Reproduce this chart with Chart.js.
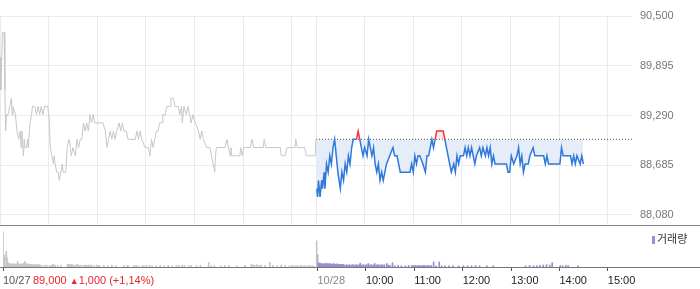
<!DOCTYPE html>
<html><head><meta charset="utf-8">
<script src="https://cdn.jsdelivr.net/npm/chart.js@4"></script>
<style>
html,body{margin:0;padding:0;background:#fff;width:700px;height:289px;overflow:hidden;font-family:'Liberation Sans',Arial,sans-serif;}
#wrap{position:relative;width:700px;height:289px;}
#price{position:absolute;left:0;top:0;}
#vol{position:absolute;left:0;top:226px;}
.change{position:absolute;left:33px;top:274px;font-size:11px;color:#e8262b;white-space:pre;line-height:13px;}
.change .tri{font-size:9px;vertical-align:0px;}
.legend{position:absolute;left:652px;top:231px;font-size:11px;color:#333;font-family:'Noto Sans CJK KR',sans-serif;line-height:14px;white-space:nowrap;}
.legend i{display:inline-block;width:3px;height:8px;background:#9a8ccf;margin-right:2px;vertical-align:-1px;}
</style></head><body>
<div id="wrap">
<canvas id="price" width="700" height="226"></canvas>
<canvas id="vol" width="700" height="63"></canvas>
<div class="change">89,000 <span class="tri">▲</span>1,000 (+1,14%)</div>
<div class="legend"><i></i>거래량</div>
</div>
<script>
// ---- data ----
const prevClose = 89000;
const priceTicks = [88080, 88685, 89290, 89895, 90500];
const timeTickLabels = ['10/27', '10/28', '10:00', '11:00', '12:00', '13:00', '14:00', '15:00'];
const timeTickMinutes = [0, 390, 450, 510, 570, 630, 690, 750];
const gridMinutes = [0, 60, 120, 180, 240, 300, 360, 390, 450, 510, 570, 630, 690, 750];

// 10/27 price (time, price)
const prevDayPrice = [
["09:00",90000],["09:01",89600],["09:03",90300],["09:05",90300],["09:06",89600],["09:07",89100],["09:08",89300],["09:10",89300],["09:12",89400],["09:14",89500],["09:15",89300],["09:16",89400],["09:19",89300],["09:20",89200],["09:21",89100],["09:23",89000],["09:25",89100],["09:26",88900],["09:27",89100],["09:29",88800],["09:30",89000],["09:31",88900],["09:33",88900],["09:34",89000],["09:35",88900],["09:37",89200],["09:39",89300],["09:40",89400],["09:43",89400],["09:45",89300],["09:47",89400],["09:49",89300],["09:51",89400],["09:53",89300],["09:55",89400],["09:59",89400],
["10:01",89200],["10:02",88900],["10:04",88800],["10:06",88700],["10:07",88800],["10:08",88700],["10:10",88600],["10:12",88600],["10:13",88500],["10:15",88600],["10:17",88700],["10:18",88600],["10:21",88600],["10:23",88900],["10:25",89000],["10:27",88900],["10:28",88800],["10:30",88900],["10:33",88800],["10:35",89000],["10:37",88900],["10:39",89000],["10:41",89000],["10:43",89200],["10:45",89100],["10:47",89200],["10:49",89100],["10:51",89300],["10:53",89200],["10:55",89300],["10:57",89200],
["11:07",89200],["11:10",89100],["11:12",88900],["11:14",89000],["11:16",89100],["11:18",89000],["11:20",89100],["11:22",89000],["11:24",89100],["11:27",89200],["11:29",89100],["11:31",89200],["11:33",89100],["11:36",89100],["11:38",89000],["11:47",89000],["11:49",89100],["11:51",89000],["11:53",89100],["11:55",89000],["11:59",88900],
["12:03",88900],["12:05",88800],["12:07",89000],["12:09",88900],["12:11",89000],["12:13",89100],["12:15",89100],["12:17",89200],["12:20",89200],["12:21",89300],["12:24",89300],["12:26",89400],["12:30",89400],["12:31",89500],["12:34",89500],["12:36",89400],["12:40",89400],["12:42",89300],["12:44",89400],["12:45",89200],["12:47",89400],["12:50",89300],["12:52",89400],["12:54",89300],["12:56",89200],["12:58",89300],
["13:01",89200],["13:05",89100],["13:07",89000],["13:09",89100],["13:11",89000],["13:15",88900],["13:19",88900],["13:21",88800],["13:23",88700],["13:25",88600],["13:26",88800],["13:27",88900],["13:38",88900],["13:40",89000],["13:42",88900],["13:44",88800],["13:45",88900],["13:46",88800],["13:56",88800],["13:57",88900],["13:59",88800],
["14:01",88900],["14:09",88900],["14:11",89000],["14:13",88900],["14:25",88900],["14:26",89000],["14:28",88900],["14:46",88900],["14:47",88800],["14:52",88800],["14:54",88900],
["15:04",88900],["15:05",89000],["15:07",88900],["15:16",88900],["15:18",88800],["15:29",88800],["15:30",89000]
];

// 10/28 price (time, price)
const todayPrice = [
["09:01",88400],["09:02",88300],["09:03",88500],["09:05",88300],["09:07",88500],["09:08",88400],["09:10",88600],["09:11",88400],["09:13",88700],["09:15",88600],["09:17",88800],["09:19",88700],["09:21",88900],["09:23",89000],["09:25",88800],["09:27",88600],["09:30",88400],["09:32",88600],["09:34",88500],["09:36",88700],["09:38",88600],["09:40",88800],["09:42",88700],["09:44",88900],["09:46",89000],["09:50",89000],["09:52",89100],["09:54",89000],["09:56",88900],["09:58",88800],
["10:00",88900],["10:03",88800],["10:05",89000],["10:07",88900],["10:09",88800],["10:11",88900],["10:13",88700],["10:15",88600],["10:17",88700],["10:19",88500],["10:21",88600],["10:23",88500],["10:25",88600],["10:27",88700],["10:31",88800],["10:35",88900],["10:37",88800],["10:40",88800],["10:42",88700],["10:44",88600],["10:56",88600],["10:58",88700],
["11:00",88600],["11:02",88800],["11:04",88700],["11:06",88800],["11:08",88800],["11:12",88700],["11:15",88600],["11:17",88800],["11:19",88800],["11:21",88900],["11:23",89000],["11:25",88900],["11:27",89000],["11:29",89100],["11:37",89100],["11:39",89000],["11:41",88900],["11:43",88800],["11:45",88700],["11:47",88600],["11:50",88700],["11:52",88600],["11:54",88800],["11:56",88700],["11:58",88800],
["12:02",88800],["12:04",88900],["12:06",88800],["12:08",88900],["12:10",88800],["12:12",88900],["12:14",88800],["12:16",88700],["12:18",88800],["12:22",88900],["12:24",88800],["12:26",88900],["12:29",88800],["12:31",88900],["12:33",88800],["12:35",88900],["12:37",88700],["12:39",88800],["12:41",88700],["12:55",88700],["12:57",88600],["12:59",88600],
["13:01",88800],["13:04",88700],["13:08",88800],["13:10",88900],["13:12",88700],["13:14",88800],["13:16",88600],["13:18",88700],["13:22",88700],["13:24",88800],["13:28",88900],["13:30",88800],["13:41",88800],["13:43",88700],["13:45",88800],["13:47",88700],
["14:01",88700],["14:03",88900],["14:05",88800],["14:14",88800],["14:16",88700],["14:18",88800],["14:20",88700],["14:22",88800],["14:26",88700],["14:28",88800],["14:30",88700]
];

// volume (minutes after 09:00 open, relative volume)
const prevDayVolume = [
[0,90],[1,22],[2,30],[4,40],[5,24],[6,12],[7,8],[8,9],[9,7],[10,8],[11,6],[12,9],[13,7],[14,6],[15,8],[16,7],[17,6],[18,14],[19,9],[20,7],[21,6],[22,8],[23,6],[24,7],[25,9],[26,8],[27,14],[28,10],[29,7],[30,6],[31,8],[32,6],[33,7],[34,5],[35,6],[36,7],[37,6],[38,5],[39,6],[40,5],[41,6],[42,5],[43,6],[44,5],[45,6],[46,5],[47,4],
[50,4],[53,5],[55,3],[58,4],[60,4],[62,7],[63,5],[65,4],[68,3],[72,4],[80,6],[81,7],[82,5],[83,6],[84,7],[85,5],[86,6],[88,4],[90,5],[92,7],[93,5],[95,4],[97,5],[100,4],[102,5],[104,4],[106,5],[108,4],[110,5],[113,3],[116,5],[118,4],[120,3],[125,4],[130,3],[135,5],[140,3],[150,4],[154,3],[155,4],[162,4],[165,4],[168,3],[173,4],[175,3],[178,4],[182,4],[185,3],[190,3],[195,4],[200,3],[205,4],[210,3],[215,4],[218,4],[222,4],[225,4],[230,3],[233,4],[240,3],[245,4],[255,12],[258,3],[262,4],[270,3],[275,4],[280,4],[290,3],[300,4],[308,7],[310,5],[312,4],[315,6],[318,4],[320,5],[325,4],[331,12],[335,4],[340,3],[345,5],[350,4],[355,3],[358,4],[360,4],[363,3],[365,4],[368,3],[370,4],[373,3],[375,4],[378,3],[380,4],[383,3],[385,3],[389,67]
];
const todayVolume = [
[0,32],[1,11],[2,8],[3,10],[4,7],[5,9],[6,8],[7,7],[8,9],[9,7],[10,8],[11,10],[12,7],[13,8],[14,6],[15,9],[16,7],[17,8],[18,6],[19,7],[20,9],[21,6],[22,7],[23,6],[24,8],[25,6],[26,7],[27,5],[28,6],[29,7],[30,5],[31,6],[32,7],[34,5],[36,6],[38,5],[40,6],[42,5],[44,6],[46,5],[48,6],[50,5],[52,6],[53,10],[55,5],[57,6],[59,5],[61,6],[63,9],[65,5],[67,6],[69,5],[71,9],[73,5],[75,6],[77,5],[79,6],[81,5],[83,6],[86,9],[88,5],[90,4],[93,11],[96,3],[100,4],[104,3],[109,3],[113,4],[117,4],[119,3],[121,4],[123,3],[125,4],[127,4],[129,3],[131,4],[133,4],[135,3],[137,4],[139,3],[141,4],[144,13],[147,3],[151,13],[154,3],[158,3],[163,3],[168,3],[175,3],[181,3],[186,3],[191,3],[196,4],[201,3],[210,3],[218,3],[258,3],[263,4],[268,3],[272,3],[276,4],[280,5],[284,6],[288,5],[291,11],[301,4],[304,3],[308,4],[311,3],[323,3]
];

// ---- helpers ----
const SESSION = 390; // 09:00–15:30 in minutes
function toX(day, hhmm) {
  const [h, m] = hhmm.split(':').map(Number);
  return day * SESSION + h * 60 + m - 540;
}
const UP = '#f0353b', DOWN = '#2f78dc';
Chart.defaults.font.family = "'Liberation Sans', Arial, sans-serif";
Chart.defaults.font.size = 11;

new Chart(document.getElementById('price'), {
  type: 'line',
  data: {
    datasets: [
      {
        label: '10/28',
        data: todayPrice.map(([t, v]) => ({ x: toX(1, t), y: v })),
        borderColor: DOWN, borderWidth: 1.5, pointRadius: 0, tension: 0,
        segment: { borderColor: c => (c.p0.parsed.y > prevClose || c.p1.parsed.y > prevClose) ? UP : DOWN },
        fill: { target: { value: prevClose }, above: 'rgba(240,53,59,0.12)', below: '#e5edf9' }
      },
      {
        label: '10/27',
        data: prevDayPrice.map(([t, v]) => ({ x: toX(0, t), y: v })),
        borderColor: '#c5c7cb', borderWidth: 1, pointRadius: 0, tension: 0, fill: false
      },
      {
        label: 'prevClose',
        data: [{ x: SESSION, y: prevClose }, { x: 2 * SESSION, y: prevClose }],
        borderColor: '#555', borderWidth: 1, borderDash: [1, 2], pointRadius: 0, fill: false
      }
    ]
  },
  options: {
    responsive: false, animation: false, events: [],
    layout: { padding: { top: 16, bottom: 1, left: 0, right: 0 } },
    plugins: { legend: { display: false }, tooltip: { enabled: false }, filler: { drawTime: 'beforeDatasetsDraw' } },
    scales: {
      x: {
        type: 'linear', min: 0, max: 2 * SESSION,
        ticks: { display: false },
        grid: { color: '#ebebeb', drawTicks: false },
        border: { display: false },
        afterBuildTicks: s => { s.ticks = gridMinutes.map(v => ({ value: v })); },
        afterFit: s => { s.height = 0; }
      },
      y: {
        position: 'right', min: 87958, max: 90500,
        ticks: { padding: 8, color: '#777', callback: v => v.toLocaleString('en-US') },
        grid: { color: '#ebebeb', drawTicks: false },
        border: { display: false },
        afterBuildTicks: s => { s.ticks = priceTicks.map(v => ({ value: v })); },
        afterFit: s => { s.width = 68; s.paddingTop = 0; s.paddingBottom = 0; }
      }
    }
  },
  plugins: [{
    id: 'sep',
    afterDraw(chart) {
      const c = chart.ctx, y = Math.round(chart.chartArea.bottom) + 0.5;
      c.save(); c.strokeStyle = '#80858c'; c.lineWidth = 1;
      c.beginPath(); c.moveTo(0, y); c.lineTo(chart.width, y); c.stroke(); c.restore();
    }
  }]
});

new Chart(document.getElementById('vol'), {
  type: 'bar',
  data: {
    datasets: [
      { label: '10/27', data: prevDayVolume.map(([m, v]) => ({ x: m, y: v })), backgroundColor: '#c6c6c6', barThickness: 1, grouped: false },
      { label: '거래량', data: todayVolume.map(([m, v]) => ({ x: SESSION + m, y: v })), backgroundColor: '#9a8ccf', barThickness: 1, grouped: false }
    ]
  },
  options: {
    responsive: false, animation: false, events: [],
    layout: { padding: { top: 2, left: 0, right: 0, bottom: 0 } },
    plugins: { legend: { display: false }, tooltip: { enabled: false } },
    scales: {
      x: {
        type: 'linear', min: 0, max: 2 * SESSION, offset: false,
        grid: { display: true, drawOnChartArea: false, drawTicks: true, tickLength: 4, color: '#555', offset: false },
        border: { display: false },
        ticks: {
          align: 'start', padding: 3, autoSkip: false, maxRotation: 0,
          color: c => c.index === 0 ? '#555' : (c.index === 1 ? '#888' : '#222'),
          callback: (v, i) => timeTickLabels[i]
        },
        afterBuildTicks: s => { s.ticks = timeTickMinutes.map(v => ({ value: v })); },
        afterFit: s => { s.height = 22; }
      },
      y: {
        position: 'right', min: 0, max: 100,
        ticks: { display: false }, grid: { display: false }, border: { display: false },
        afterFit: s => { s.width = 68; }
      }
    }
  },
  plugins: [{
    id: 'baseline',
    afterDraw(chart) {
      const c = chart.ctx, y = Math.round(chart.chartArea.bottom) + 0.5;
      c.save(); c.strokeStyle = '#777'; c.lineWidth = 1;
      c.beginPath(); c.moveTo(0, y); c.lineTo(chart.width, y); c.stroke(); c.restore();
    }
  }]
});
</script>
</body></html>
